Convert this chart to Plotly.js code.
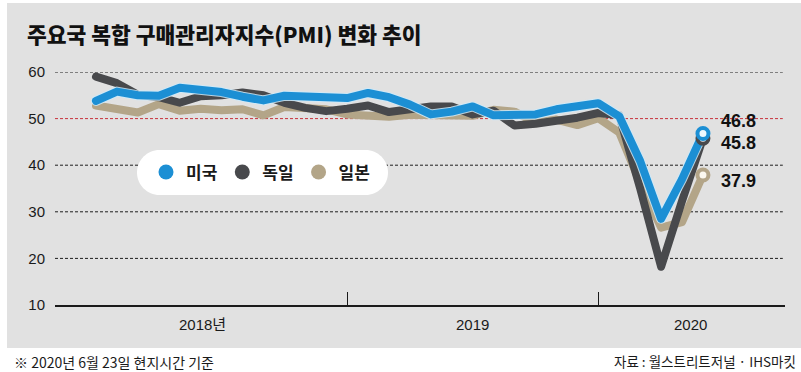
<!DOCTYPE html>
<html>
<head>
<meta charset="utf-8">
<script src="https://cdn.plot.ly/plotly-3.0.1.min.js"></script>
<style>
  html, body { margin: 0; padding: 0; background: #ffffff; }
  #chart { width: 801px; height: 372px; }
  .scatterlayer .js-line { stroke-linejoin: round; stroke-linecap: round; }
</style>
</head>
<body>
<div id="chart"></div>
<script>
// ---- data ----
const months = ['2018-01','2018-02','2018-03','2018-04','2018-05','2018-06','2018-07','2018-08','2018-09','2018-10','2018-11','2018-12',
                '2019-01','2019-02','2019-03','2019-04','2019-05','2019-06','2019-07','2019-08','2019-09','2019-10','2019-11','2019-12',
                '2020-01','2020-02','2020-03','2020-04','2020-05','2020-06'];
const seriesNames = ['미국', '독일', '일본'];
const usPMI = [53.8, 55.8, 55.0, 54.9, 56.6, 56.2, 55.7, 54.7, 53.9, 54.9, 54.7, 54.4,
               54.4, 55.5, 54.6, 53.0, 50.9, 51.5, 52.6, 50.7, 51.0, 50.9, 52.0, 52.7,
               53.3, 50.5, 40.9, 28.5, 37.0, 46.8];
const dePMI = [59.0, 57.6, 55.1, 54.6, 53.4, 54.8, 55.0, 55.6, 55.0, 53.4, 52.3, 51.6,
               52.1, 52.8, 51.4, 52.2, 52.6, 52.6, 50.9, 51.7, 48.5, 48.9, 49.4, 50.2,
               51.2, 50.7, 35.0, 18.2, 32.3, 45.8];
const jpPMI = [52.8, 52.2, 51.3, 53.1, 51.7, 52.1, 51.8, 52.0, 50.7, 52.5, 52.4, 52.0,
               50.9, 50.7, 50.4, 50.8, 50.7, 50.8, 50.6, 51.9, 51.5, 49.1, 49.8, 48.6,
               50.1, 47.0, 36.2, 26.6, 27.8, 37.9];
const yTickVals = [10, 20, 30, 40, 50, 60];
const gridVals = [20, 30, 40, 50, 60];
const yearLabels = ['2018년', '2019', '2020'];
const yearLabelX = [5.1, 18.0, 28.4];
const yearTickX = [12, 24];

// ---- style ----
const colors = { us: '#1c8fd4', de: '#48494c', jp: '#b3a588' };
const W = 801, H = 372;
const M = { l: 55, r: 16, t: 72, b: 67 };
const pw = W - M.l - M.r, ph = H - M.t - M.b;
const px = v => (v - M.l) / pw;          // pixel x -> paper
const py = v => (H - M.b - v) / ph;      // pixel y -> paper

const x = months.map((m, i) => i);
const last = x.length - 1;

const lineTrace = (y, color, width) => ({
  x: x, y: y, type: 'scatter', mode: 'lines',
  line: { color: color, width: width, shape: 'linear' },
  showlegend: false, hoverinfo: 'skip'
});
const endTrace = (y, color, fill) => ({
  x: [x[last]], y: [y[last]], type: 'scatter', mode: 'markers',
  marker: { size: 11, color: fill, line: { color: color, width: 4 } },
  showlegend: false, hoverinfo: 'skip', cliponaxis: false
});
const legendTrace = (name, color) => ({
  x: [null], y: [null], type: 'scatter', mode: 'markers', name: name,
  marker: { size: 15, color: color }, showlegend: true
});

const traces = [
  lineTrace(jpPMI, colors.jp, 8),
  lineTrace(dePMI, colors.de, 8),
  lineTrace(usPMI, 'rgba(205,234,250,0.85)', 10),
  lineTrace(usPMI, colors.us, 8),
  endTrace(jpPMI, colors.jp, '#fbf8ef'),
  endTrace(dePMI, colors.de, '#f4f4f4'),
  endTrace(usPMI, colors.us, '#eef8fd'),
  legendTrace(seriesNames[0], colors.us),
  legendTrace(seriesNames[1], colors.de),
  legendTrace(seriesNames[2], colors.jp)
];

// pill-shaped legend background
const r = 22.5, k = 0.5523;
const L = 137, R = 388, T = 150, B = 195, cy = (T + B) / 2;
const P = (a, b) => px(a).toFixed(5) + ',' + py(b).toFixed(5);
const pillPath = 'M' + P(L + r, T) + ' L' + P(R - r, T) +
  ' C' + P(R - r + k * r, T) + ' ' + P(R, cy - k * r) + ' ' + P(R, cy) +
  ' C' + P(R, cy + k * r) + ' ' + P(R - r + k * r, B) + ' ' + P(R - r, B) +
  ' L' + P(L + r, B) +
  ' C' + P(L + r - k * r, B) + ' ' + P(L, cy + k * r) + ' ' + P(L, cy) +
  ' C' + P(L, cy - k * r) + ' ' + P(L + r - k * r, T) + ' ' + P(L + r, T) + ' Z';

const shapes = [
  { type: 'rect', xref: 'paper', yref: 'paper', x0: px(7), x1: px(801), y0: py(348), y1: py(3),
    fillcolor: '#e1e1e1', line: { width: 0 }, layer: 'below' }
].concat(gridVals.map(v => ({
  type: 'line', xref: 'paper', yref: 'y', x0: 0, x1: 0.997, y0: v, y1: v,
  line: { color: v === 50 ? '#c8323c' : '#1e1e1e', width: 1, dash: '3px,2px' }, layer: 'below'
}))).concat([
  { type: 'path', xref: 'paper', yref: 'paper', path: pillPath, fillcolor: '#ffffff',
    line: { width: 0 }, layer: 'below' }
]);

const numFont = { family: 'Liberation Sans, Arial, sans-serif', size: 18, color: '#111111', weight: 700 };
const endLabels = [
  { v: usPMI[last], yshift: 13 },
  { v: dePMI[last], yshift: -4.5 },
  { v: jpPMI[last], yshift: -5.6 }
].map(o => ({
  x: x[last], y: o.v, xref: 'x', yref: 'y', text: o.v.toFixed(1), showarrow: false,
  xanchor: 'left', yanchor: 'middle', xshift: 16, yshift: o.yshift, font: numFont
}));

const yearAnn = yearLabels.map((t, i) => ({
  x: yearLabelX[i], y: py(324), xref: 'x', yref: 'paper', text: t, showarrow: false,
  xanchor: 'center', yanchor: 'middle',
  font: { family: 'Liberation Sans, Noto Sans CJK KR, sans-serif', size: 15, color: '#1a1a1a' }
}));

const footers = [
  { x: px(12), y: py(362), xref: 'paper', yref: 'paper', text: '※ 2020년 6월 23일 현지시간 기준',
    showarrow: false, xanchor: 'left', yanchor: 'middle',
    font: { family: 'Noto Sans CJK KR, sans-serif', size: 14, color: '#1a1a1a' } },
  { x: px(798), y: py(361), xref: 'paper', yref: 'paper', text: '자료 : 월스트리트저널 · IHS마킷',
    showarrow: false, xanchor: 'right', yanchor: 'middle',
    font: { family: 'Noto Sans CJK KR, sans-serif', size: 13.5, color: '#1a1a1a' } }
];

const layout = {
  width: W, height: H,
  margin: M,
  paper_bgcolor: '#ffffff',
  plot_bgcolor: 'rgba(0,0,0,0)',
  title: {
    text: '주요국 복합 구매관리자지수(PMI) 변화 추이',
    font: { family: 'Noto Sans CJK KR, sans-serif', size: 21.5, color: '#111111', weight: 900 },
    x: 27 / W, xref: 'container', xanchor: 'left',
    y: 1 - 35 / H, yref: 'container', yanchor: 'middle'
  },
  xaxis: {
    range: [-1.959, 32.92], showgrid: false, zeroline: false,
    showline: true, linecolor: '#1a1a1a', linewidth: 1.5,
    tickmode: 'array', tickvals: yearTickX, ticks: 'inside', ticklen: 13,
    tickcolor: '#1a1a1a', tickwidth: 1, showticklabels: false, fixedrange: true
  },
  yaxis: {
    range: [10, 60], showgrid: false, zeroline: false, showline: false,
    tickmode: 'array', tickvals: yTickVals, ticks: '', ticklabelstandoff: 9,
    tickfont: { family: 'Liberation Sans, Arial, sans-serif', size: 15, color: '#1a1a1a' },
    fixedrange: true
  },
  showlegend: true,
  legend: {
    orientation: 'h', x: px(146), y: py(172.5), xanchor: 'left', yanchor: 'middle',
    xref: 'paper', yref: 'paper',
    bgcolor: 'rgba(0,0,0,0)', borderwidth: 0, itemwidth: 30,
    font: { family: 'Noto Sans CJK KR, sans-serif', size: 17, color: '#1a1a1a', weight: 700 },
    traceorder: 'normal', itemclick: false, itemdoubleclick: false
  },
  shapes: shapes,
  annotations: endLabels.concat(yearAnn, footers)
};

Plotly.newPlot('chart', traces, layout, { displayModeBar: false, staticPlot: true });
</script>
</body>
</html>
